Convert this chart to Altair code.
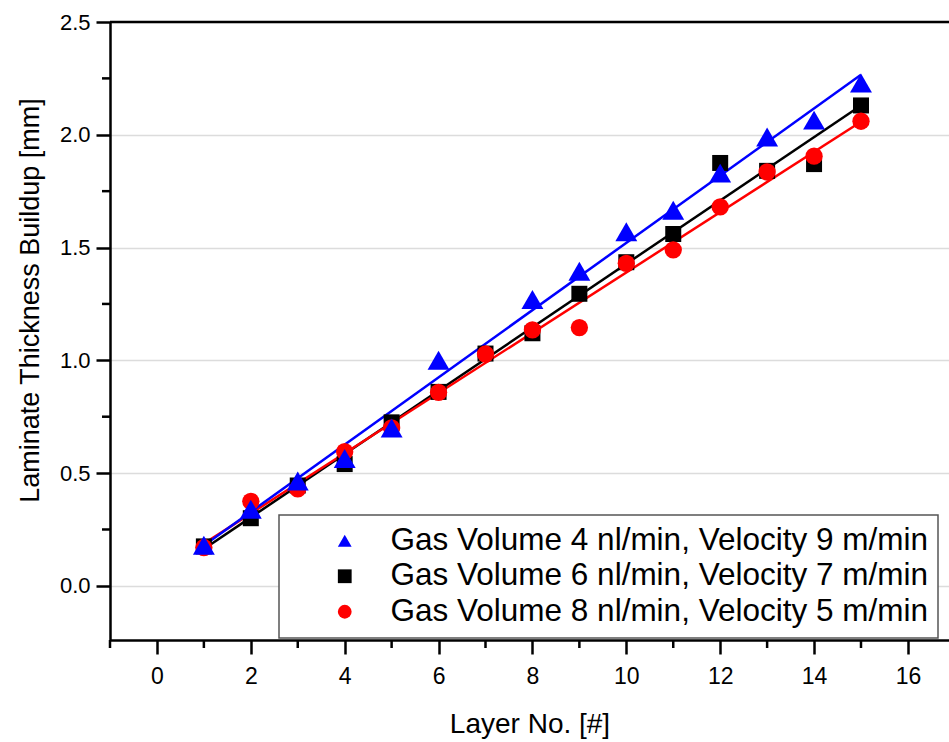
import altair as alt
import pandas as pd

# ---- data ----
layers = list(range(1, 16))
blue_layers = [1, 2, 3, 4, 5, 6, 8, 9, 10, 11, 12, 13, 14, 15]
blue_vals = [0.18, 0.34, 0.465, 0.565, 0.70, 1.00, 1.27, 1.395, 1.57, 1.665, 1.83, 1.99, 2.065, 2.23]
black_vals = [0.175, 0.30, 0.445, 0.54, 0.725, 0.86, 1.03, 1.12, 1.295, 1.435, 1.56, 1.875, 1.84, 1.87, 2.13]
red_vals = [0.17, 0.375, 0.43, 0.595, 0.70, 0.858, 1.028, 1.135, 1.145, 1.43, 1.49, 1.68, 1.835, 1.905, 2.06]

s_blue = "Gas Volume 4 nl/min, Velocity 9 m/min"
s_black = "Gas Volume 6 nl/min, Velocity 7 m/min"
s_red = "Gas Volume 8 nl/min, Velocity 5 m/min"
series_order = [s_blue, s_black, s_red]
series_colors = ["#0000ff", "#000000", "#ff0000"]
series_shapes = ["triangle-up", "square", "circle"]
marker_sizes = {s_blue: 480, s_black: 256, s_red: 300}

y_major = [0.0, 0.5, 1.0, 1.5, 2.0, 2.5]
y_minor = [0.25, 0.75, 1.25, 1.75, 2.25]
x_major = [0, 2, 4, 6, 8, 10, 12, 14, 16]
x_minor = [-1, 1, 3, 5, 7, 9, 11, 13, 15]

rows = []
for x, v in zip(layers, black_vals):
    rows.append({"layer": x, "thick": v, "series": s_black})
for x, v in zip(layers, red_vals):
    rows.append({"layer": x, "thick": v, "series": s_red})
for x, v in zip(blue_layers, blue_vals):
    rows.append({"layer": x, "thick": v, "series": s_blue})
df = pd.DataFrame(rows)

W, H = 839, 618
FONT = "Liberation Sans"

xscale = alt.Scale(domain=[-1, 16.875], nice=False, zero=False)
yscale = alt.Scale(domain=[-0.24, 2.5], nice=False, zero=False)
cscale = alt.Scale(domain=series_order, range=series_colors)
shscale = alt.Scale(domain=series_order, range=series_shapes)

xaxis = alt.Axis(values=x_major, title="Layer No. [#]", grid=False, domainColor="black",
                 domainWidth=2.5, tickColor="black", tickWidth=2.5, tickSize=14,
                 labelFont=FONT, labelFontSize=23, labelColor="black", labelBaseline="alphabetic",
                 labelPadding=29, titleFont=FONT, titleFontSize=28, titleFontWeight="normal",
                 titleColor="black", titleBaseline="alphabetic", titleY=92)
yaxis = alt.Axis(values=y_major, format=".1f", title="Laminate Thickness Buildup [mm]",
                 grid=True, gridColor="#dcdcdc", gridWidth=1.5, domainColor="black",
                 domainWidth=2.5, tickColor="black", tickWidth=2.5, tickSize=14,
                 labelFont=FONT, labelFontSize=22, labelColor="black", labelPadding=6,
                 titleFont=FONT, titleFontSize=27, titleFontWeight="normal", titleColor="black",
                 titleX=-66, titleY=278)

leg = alt.Legend(title=None, orient="none", legendX=169, legendY=493, fillColor="white",
                 strokeColor="#555555", padding=10, labelFont=FONT, labelLimit=0,
                 labelFontSize=31.5, labelColor="black", symbolSize=190, symbolOffset=40,
                 labelOffset=30, rowPadding=2.5, symbolStrokeWidth=0)

base = alt.Chart(df)
X = alt.X("layer:Q", scale=xscale, axis=xaxis)
Y = alt.Y("thick:Q", scale=yscale, axis=yaxis)

lines = base.transform_regression(
    "layer", "thick", groupby=["series"], extent=[1, 15]
).mark_line(strokeWidth=2.5).encode(
    x=X, y=Y, color=alt.Color("series:N", scale=cscale, legend=leg),
)

point_layers = []
for s in [s_black, s_red, s_blue]:
    point_layers.append(
        base.transform_filter(alt.datum.series == s).mark_point(filled=True, opacity=1).encode(
            x=X, y=Y,
            color=alt.Color("series:N", scale=cscale, legend=leg),
            shape=alt.Shape("series:N", scale=shscale, legend=leg),
            size=alt.value(marker_sizes[s]),
        )
    )

yminor = alt.Chart(pd.DataFrame({"v": y_minor})).mark_rule(color="black", strokeWidth=2.5).encode(
    y=alt.Y("v:Q", scale=yscale), x=alt.value(-8), x2=alt.value(0)
)
xminor = alt.Chart(pd.DataFrame({"v": x_minor})).mark_rule(color="black", strokeWidth=2.5).encode(
    x=alt.X("v:Q", scale=xscale), y=alt.value(H), y2=alt.value(H + 8)
)
topline = alt.Chart(pd.DataFrame({"v": [0]})).mark_rule(color="black", strokeWidth=2.5).encode(
    y=alt.value(0), x=alt.value(0), x2=alt.value(W)
)

chart = alt.layer(lines, *point_layers, yminor, xminor, topline).properties(
    width=W, height=H,
    autosize=alt.AutoSizeParams(type="none"),
    padding={"left": 110, "top": 22, "right": 0, "bottom": 102},
).configure_view(stroke=None).configure(background="white").configure_legend(strokeWidth=1.5)

chart.save("out.html", embed_options={"renderer": "svg", "actions": False})
